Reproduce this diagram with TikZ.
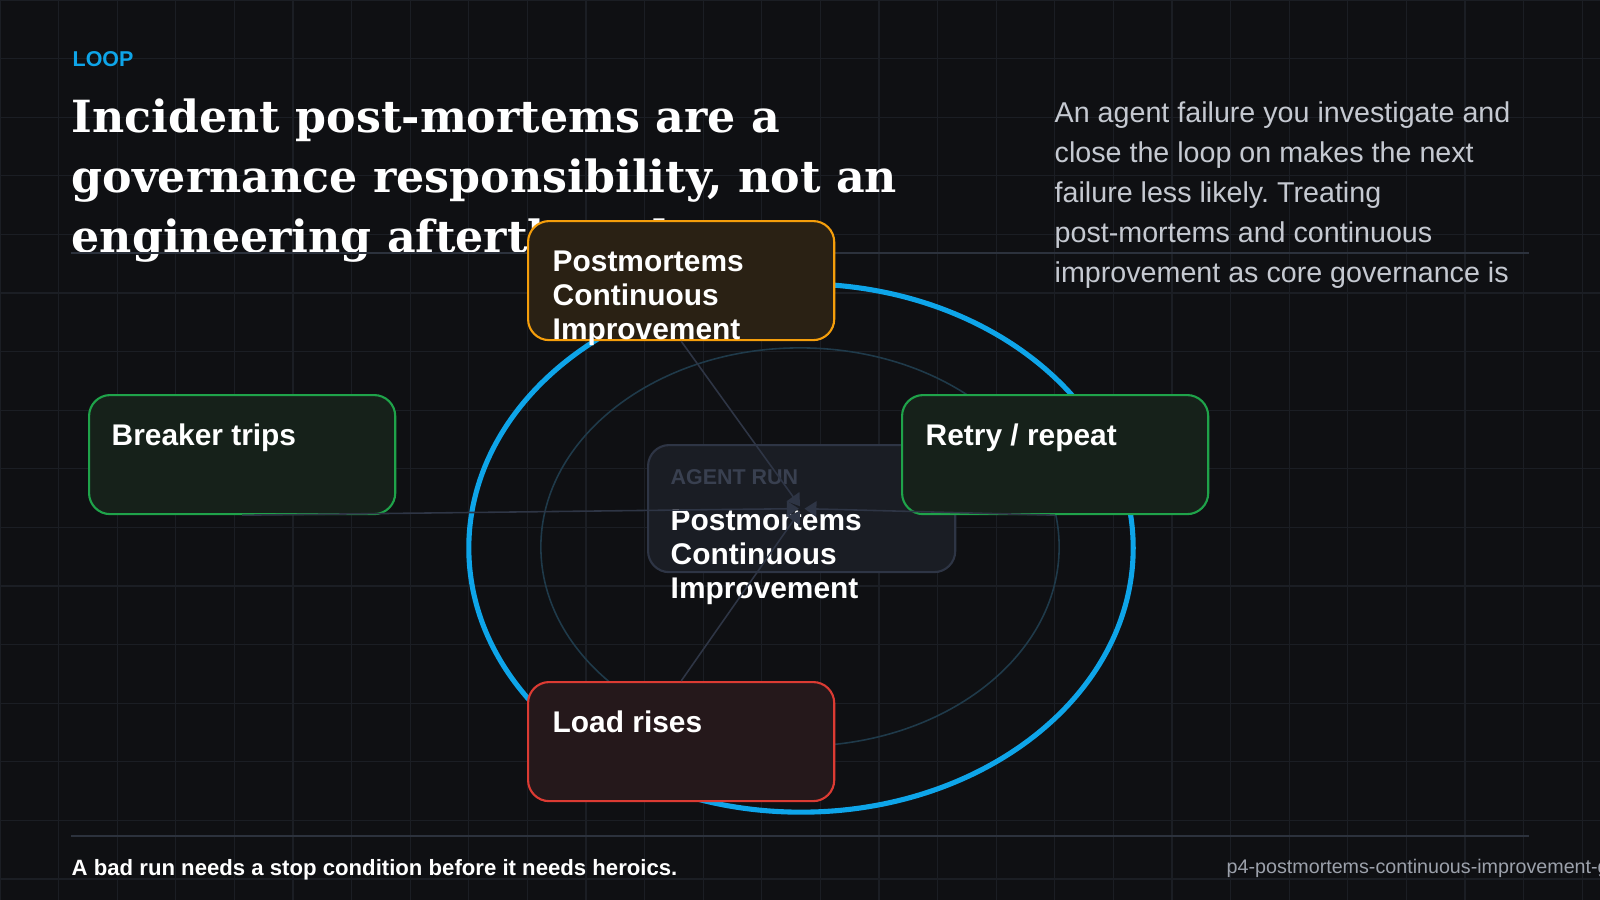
\documentclass[tikz,border=0pt]{standalone}
\usepackage{fontspec}
\setmainfont{Liberation Sans}
\newfontfamily\serifbold{DejaVu Serif}
\usetikzlibrary{arrows.meta}
\frenchspacing

\definecolor{bg}{HTML}{0F1013}
\definecolor{gridc}{HTML}{1B1E24}
\definecolor{rulec}{HTML}{2C323D}
\definecolor{sky}{HTML}{0EA5E9}
\definecolor{ringc}{HTML}{1F3A4A}
\definecolor{amber}{HTML}{F59E0B}
\definecolor{amberbg}{HTML}{2A2114}
\definecolor{grn}{HTML}{1FA34A}
\definecolor{grnbg}{HTML}{16211A}
\definecolor{redc}{HTML}{DC3B33}
\definecolor{redbg}{HTML}{25181B}
\definecolor{hubbg}{HTML}{1A1D24}
\definecolor{hubln}{HTML}{2E3545}
\definecolor{paper}{HTML}{C5C9D1}
\definecolor{muted}{HTML}{9CA1AB}
\definecolor{faint}{HTML}{394050}

\begin{document}
\begin{tikzpicture}[x=0.01cm,y=-0.01cm,
  card/.style={draw,line width=0.6pt,rounded corners=6pt,anchor=north west,inner sep=0pt,
    minimum width=3.06cm,minimum height=1.19cm},
  txt/.style={anchor=base west,inner sep=0pt,align=left},
  cardtext/.style={txt,text=white,font=\bfseries\fontsize{8.5}{9.6}\selectfont},
  link/.style={draw=hubln,line width=0.45pt,-{Triangle[length=3.4pt,width=4.4pt]},shorten >=0.8pt}]
  \useasboundingbox (0,0) rectangle (1600,900);
  \fill[bg] (0,0) rectangle (1600,900);
  \foreach \i in {0,...,27} {
    \draw[gridc,line width=0.3pt] (\i*58.6,0) -- (\i*58.6,900);
  }
  \foreach \j in {0,...,15} {
    \draw[gridc,line width=0.3pt] (0,\j*58.6) -- (1600,\j*58.6);
  }
  \node[txt,text=sky,font=\bfseries\fontsize{6.1}{7}\selectfont] (kicker) at (72,67) {LOOP};
  \node[txt,text=white,font=\serifbold\bfseries\fontsize{12.6}{17}\selectfont] (title) at (71,252)
    {Incident post-mortems are a\\governance responsibility, not an\\engineering afterthought.};
  \node[txt,text=paper,font=\fontsize{8.15}{11.34}\selectfont] (blurb) at (1054,282)
    {An agent failure you investigate and\\close the loop on makes the next\\failure less likely. Treating\\post-mortems and continuous\\improvement as core governance is};
  \draw[rulec,line width=0.6pt] (71,253) -- (1529,253);
  \draw[rulec,line width=0.75pt] (71,836) -- (1529,836);
  \node[txt,text=white,font=\bfseries\fontsize{6.3}{7}\selectfont] (tagline) at (71,875)
    {A bad run needs a stop condition before it needs heroics.};
  \node[txt,text=muted,font=\fontsize{5.6}{7}\selectfont] (slug) at (1226,873)
    {p4-postmortems-continuous-improvement-g};

  \draw[ringc,line width=0.45pt] (800,547) ellipse [x radius=2.59cm,y radius=1.99cm];
  \draw[sky,line width=1.45pt] (801,548) ellipse [x radius=3.32cm,y radius=2.64cm];

  \node[card,draw=hubln,fill=hubbg,minimum width=3.07cm,minimum height=1.27cm] (hub) at (647,444) {};
  \node[txt,text=faint,font=\bfseries\fontsize{6.1}{7}\selectfont] (hubtag) at (670,484) {AGENT RUN};
  \node[cardtext] (hubtext) at (670,598) {Postmortems\\Continuous\\Improvement};

  \node[card,draw=amber,fill=amberbg] (post) at (527,220) {};
  \node[cardtext] (posttext) at (552,339) {Postmortems\\Continuous\\Improvement};
  \node[card,draw=grn,fill=grnbg] (brk) at (88,394) {};
  \node[cardtext] (brktext) at (111,445) {Breaker trips};
  \node[card,draw=grn,fill=grnbg] (rty) at (901,394) {};
  \node[cardtext] (rtytext) at (925,445) {Retry / repeat};
  \node[card,draw=redc,fill=redbg] (load) at (527,681) {};
  \node[cardtext] (loadtext) at (552,732) {Load rises};

  \draw[link] (post.south) -- (hub.center);
  \draw[link] (load.north) -- (hub.center);
  \draw[link] (brk.south) -- (hub.center);
  \draw[link] (rty.south) -- (hub.center);
\end{tikzpicture}
\end{document}
